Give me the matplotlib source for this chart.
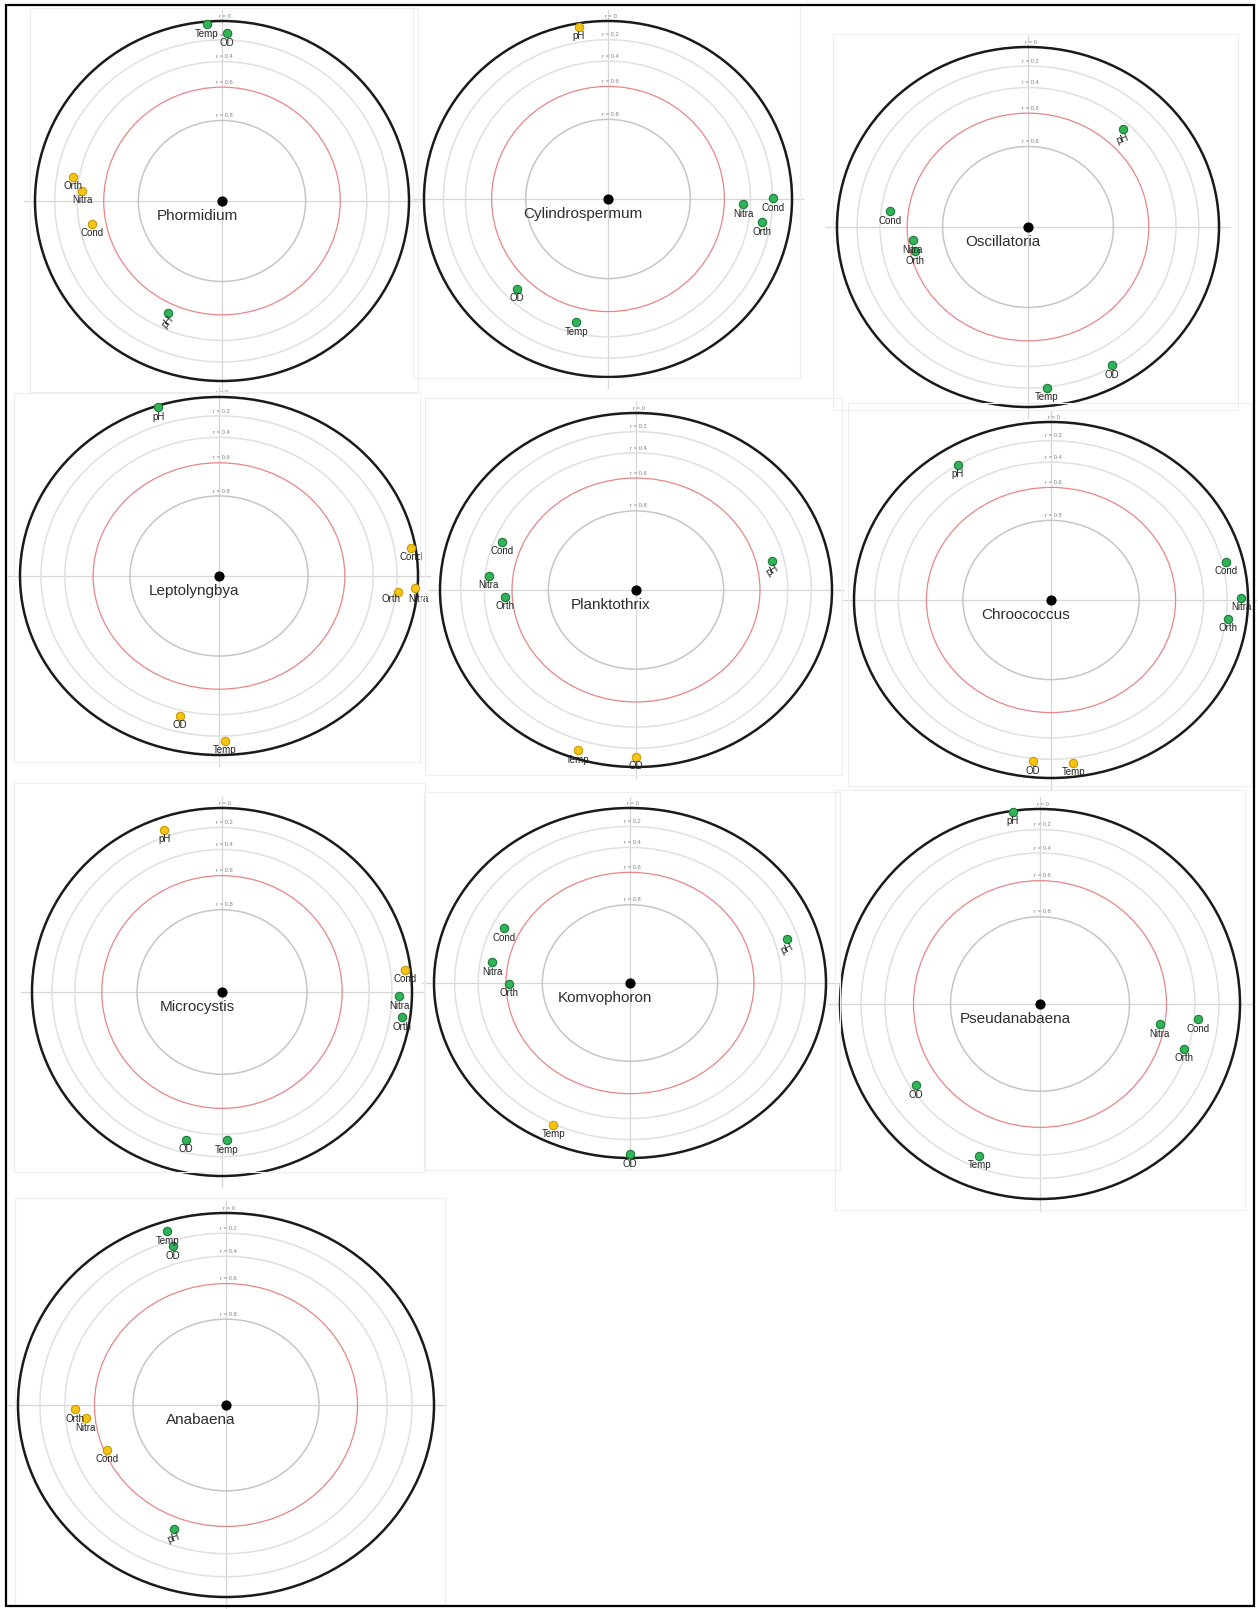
import matplotlib
matplotlib.use('Agg')
import matplotlib.pyplot as plt
import numpy as np
from matplotlib.patches import Circle, Rectangle

plt.rcParams['font.family'] = ['Liberation Sans', 'DejaVu Sans']

species = ['Phormidium', 'Cylindrospermum', 'Oscillatoria', 'Leptolyngbya', 'Planktothrix',
           'Chroococcus', 'Microcystis', 'Komvophoron', 'Pseudanabaena', 'Anabaena']
variables = ['Temp', 'OD', 'pH', 'Cond', 'Nitra', 'Orth']

# korelacja zmiennej z rodzajem (znak -> kolor punktu)
corr = [
    [0.03, 0.13, 0.53, -0.50, -0.44, -0.35],    # Phormidium
    [0.49, 0.50, -0.04, 0.20, 0.46, 0.28],      # Cylindrospermum
    [0.19, 0.22, 0.46, 0.47, 0.63, 0.63],       # Oscillatoria
    [-0.15, -0.35, 0.02, -0.04, -0.03, -0.18],  # Leptolyngbya
    [-0.09, -0.11, 0.49, 0.46, 0.43, 0.55],     # Planktothrix
    [-0.15, -0.17, 0.20, 0.16, 0.07, 0.18],     # Chroococcus
    [0.35, 0.32, -0.13, -0.06, 0.13, 0.08],     # Microcystis
    [-0.19, 0.04, 0.30, 0.49, 0.49, 0.62],      # Komvophoron
    [0.30, 0.44, 0.01, 0.37, 0.63, 0.43],       # Pseudanabaena
    [0.10, 0.25, 0.52, -0.62, -0.54, -0.47],    # Anabaena
]

# kierunek zmiennej na wykresie (stopnie)
angle = [
    [94.7, 88.3, 245.0, 190.4, 175.6, 170.3],
    [256.0, 225.6, 99.3, 0.2, 357.7, 351.1],
    [276.3, 299.7, 47.5, 173.1, 187.0, 192.8],
    [271.9, 256.0, 108.0, 9.3, 356.2, 354.3],
    [251.8, 270.0, 13.4, 158.2, 173.9, 183.3],
    [277.0, 264.1, 122.0, 13.6, 0.8, 353.4],
    [271.8, 256.7, 109.0, 7.1, 358.6, 351.8],
    [244.2, 270.0, 17.3, 154.0, 170.4, 180.4],
    [248.7, 213.8, 97.9, 354.3, 350.1, 342.2],
    [107.3, 107.2, 248.7, 202.2, 185.9, 181.8],
]

rings = [0, 0.2, 0.4, 0.6, 0.8]

W, H = 1258, 1609
# srodek i polosie kazdego panelu w pikselach
centers = [(222, 201), (608, 199), (1028, 227), (219, 576), (636, 590),
           (1051, 600), (222, 992), (630, 983), (1040, 1004), (226, 1405)]
radii = [(187, 180), (184, 178), (191, 180), (199, 179), (196, 177),
         (197, 178), (190, 184), (196, 175), (200, 195), (208, 192)]
# jasne ramki paneli (x0, y0, x1, y1)
frames = [(30, 8, 418, 392), (413, 5, 800, 378), (833, 34, 1238, 410),
          (14, 393, 420, 762), (425, 398, 842, 775), (848, 403, 1252, 786),
          (14, 783, 425, 1172), (424, 792, 840, 1170), (835, 790, 1245, 1210),
          (15, 1198, 445, 1605)]

label_rot = {('Phormidium', 'pH'): 50, ('Oscillatoria', 'pH'): 20,
             ('Planktothrix', 'pH'): 30, ('Komvophoron', 'pH'): 25,
             ('Anabaena', 'pH'): 20}
# przesuniecie etykiet, ktore inaczej sie nakladaja (punkty)
label_shift = {('Leptolyngbya', 'Orth'): (-5, -5), ('Leptolyngbya', 'Nitra'): (3, -8)}

green, green_edge = '#2fb457', '#1d7a3a'
yellow, yellow_edge = '#f6c414', '#c99a00'

fig = plt.figure(figsize=(W / 100, H / 100), dpi=100)
fig.patch.set_facecolor('white')

for x0, y0, x1, y1 in frames:
    fig.patches.append(Rectangle((x0 / W, 1 - y1 / H), (x1 - x0) / W, (y1 - y0) / H,
                                 transform=fig.transFigure, fill=False,
                                 edgecolor='#eeeeee', linewidth=0.8))

m = 1.12
for i, name in enumerate(species):
    cx, cy = centers[i]
    rx, ry = radii[i]
    ax = fig.add_axes([(cx - rx * m) / W, 1 - (cy + ry * m) / H, 2 * rx * m / W, 2 * ry * m / H])
    ax.set_xlim(-m, m)
    ax.set_ylim(-m, m)
    ax.axis('off')

    ax.plot([-1.06, 1.06], [0, 0], color='#d6d6d6', lw=0.9, zorder=1)
    ax.plot([0, 0], [-1.06, 1.06], color='#d6d6d6', lw=0.9, zorder=1)

    for r in rings:
        rad = np.sqrt(1 - r)
        if r == 0:
            col, lw = '#1a1a1a', 1.8
        elif r == 0.6:
            col, lw = '#e98585', 0.9
        elif r == 0.8:
            col, lw = '#c6c6c6', 1.1
        else:
            col, lw = '#e0e0e0', 1.1
        ax.add_patch(Circle((0, 0), rad, fill=False, edgecolor=col, linewidth=lw, zorder=2))
        ax.annotate(f'r = {r:g}', xy=(0, rad), xytext=(2, 3.5), textcoords='offset points',
                    ha='center', va='center', fontsize=4.2, color='#808080', zorder=3)

    ax.scatter([0], [0], s=40, color='black', zorder=5)
    ax.annotate(name, xy=(0, 0), xytext=(-18, -11), textcoords='offset points',
                ha='center', va='center', fontsize=11, color='#2e2e2e', zorder=5)

    for j, var in enumerate(variables):
        r = corr[i][j]
        rad = np.sqrt(1 - abs(r))
        th = np.deg2rad(angle[i][j])
        px, py = rad * np.cos(th), rad * np.sin(th)
        fc, ec = (green, green_edge) if r > 0 else (yellow, yellow_edge)
        ax.scatter([px], [py], s=36, color=fc, edgecolors=ec, linewidths=0.8, zorder=6)
        ax.annotate(var, xy=(px, py), xytext=label_shift.get((name, var), (0, -6.8)),
                    textcoords='offset points', ha='center', va='center', fontsize=7,
                    color='#222222', rotation=label_rot.get((name, var), 0), zorder=7)

# czarna ramka wokol calosci
fig.patches.append(Rectangle((6 / W, 1 - 1606 / H), 1248 / W, 1601 / H,
                             transform=fig.transFigure, fill=False,
                             edgecolor='black', linewidth=1.6))

fig.savefig('out.png', dpi=100)
